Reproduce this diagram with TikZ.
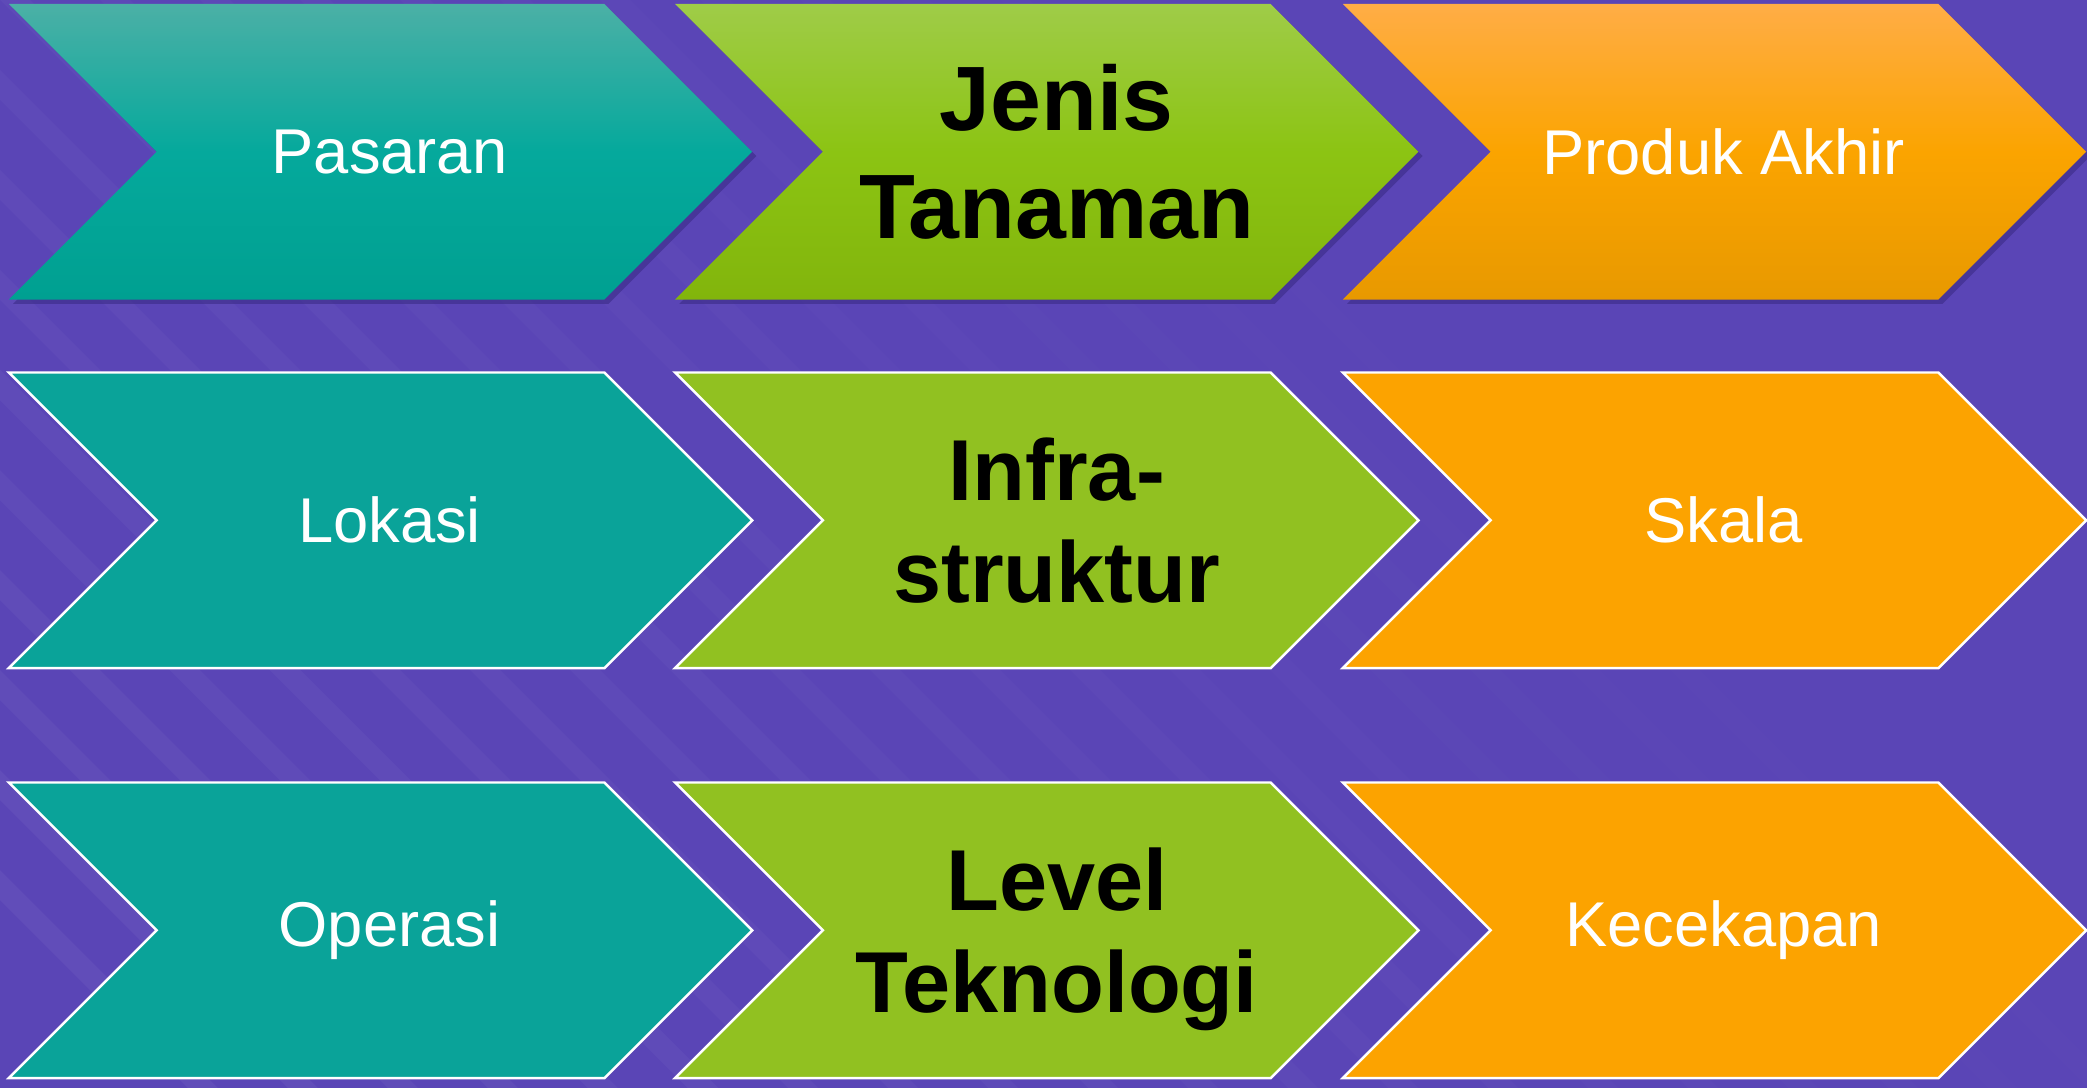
\documentclass[tikz,border=0pt]{standalone}
\usepackage{fontspec}
\setmainfont{Liberation Sans}
\usepackage{xcolor}
\usetikzlibrary{shapes.symbols,shadows}

\definecolor{bgpurple}{HTML}{5A45B6}
\definecolor{shadowpurple}{HTML}{3B2B86}
\definecolor{tealtop}{HTML}{4BB0A6}
\definecolor{tealmid}{HTML}{05A99C}
\definecolor{tealbot}{HTML}{00A091}
\definecolor{greentop}{HTML}{9FCC48}
\definecolor{greenmid}{HTML}{8CC413}
\definecolor{greenbot}{HTML}{82B50C}
\definecolor{orangetop}{HTML}{FFAD46}
\definecolor{orangemid}{HTML}{FBA400}
\definecolor{orangebot}{HTML}{E89900}
\definecolor{tealflat}{HTML}{0AA399}
\definecolor{greenflat}{HTML}{91C121}
\definecolor{orangeflat}{HTML}{FCA300}

\begin{document}
\begin{tikzpicture}[x=0.01cm, y=-0.01cm,
  arrow box/.style={signal, signal from=west, signal to=east, signal pointer angle=90,
    minimum width=7.43cm, minimum height=2.954cm, inner sep=0pt},
  shade box/.style={arrow box, drop shadow={shadow xshift=1.2pt, shadow yshift=-1.2pt, opacity=0.6, fill=shadowpurple}},
  flat box/.style={arrow box, draw=white, line width=0.7pt},
  light text/.style={text=white, align=center, xshift=0.09cm, font=\fontsize{18}{21}\selectfont},
  bold text/.style={text=black, align=center, xshift=0.1cm, text depth=0pt, font=\fontsize{26}{30.7}\selectfont\bfseries},
  bold text flat/.style={bold text, font=\fontsize{24.6}{29}\selectfont\bfseries}]
\path[use as bounding box] (0,0) rectangle (2087,1088);
\clip (0,0) rectangle (2087,1088);
\fill[bgpurple] (0,0) rectangle (2087,1088);
% faint stripes in the background
\foreach \i in {0,...,22} {
  \pgfmathsetmacro\op{max(0,0.045-0.002*\i)}
  \fill[white, opacity=\op] (\i*100-900,0) -- ++(30,0) -- ++(1088,1088) -- ++(-30,0) -- cycle;
}
% row 1
\node[shade box, top color=tealtop, bottom color=tealbot, middle color=tealmid,
  label={[light text]center:Pasaran}] (pasaran) at (380.5,151.75) {};
\node[shade box, top color=greentop, bottom color=greenbot, middle color=greenmid,
  label={[bold text]center:Jenis\\Tanaman}] (jenis) at (1046.75,151.75) {};
\node[shade box, top color=orangetop, bottom color=orangebot, middle color=orangemid,
  label={[light text]center:Produk Akhir}] (produk) at (1714.5,151.75) {};
% row 2
\node[flat box, fill=tealflat, label={[light text]center:Lokasi}] (lokasi) at (380.5,520.3) {};
\node[flat box, fill=greenflat, label={[bold text flat]center:Infra-\\struktur}] (infra) at (1046.75,520.3) {};
\node[flat box, fill=orangeflat, label={[light text]center:Skala}] (skala) at (1714.5,520.3) {};
% row 3
\node[flat box, fill=tealflat, label={[light text]center:Operasi}] (operasi) at (380.5,930.3) {};
\node[flat box, fill=greenflat, label={[bold text flat]center:Level\\Teknologi}] (level) at (1046.75,930.3) {};
\node[flat box, fill=orangeflat, label={[light text]center:Kecekapan}] (kecekapan) at (1714.5,930.3) {};
\end{tikzpicture}
\end{document}
